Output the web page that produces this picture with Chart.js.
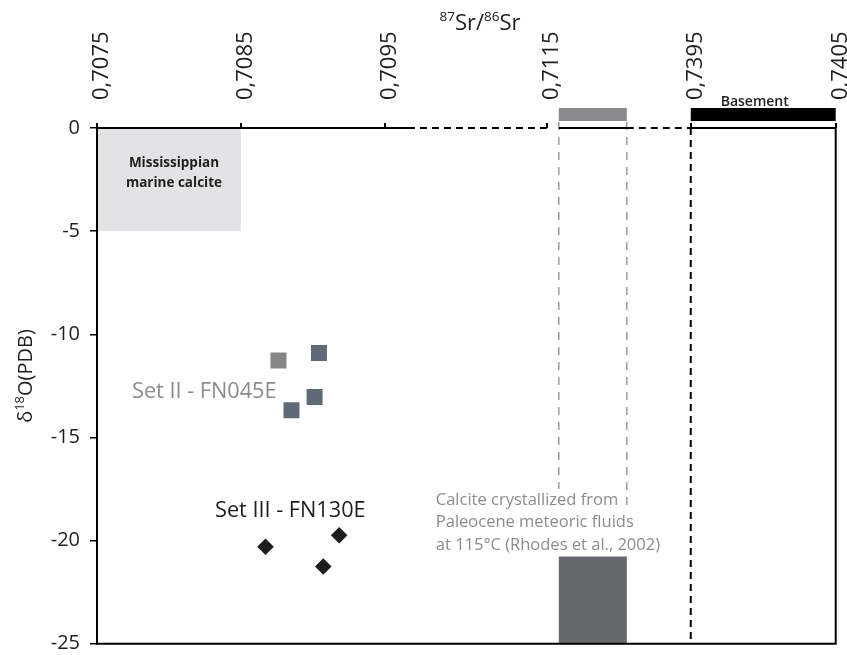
<!DOCTYPE html>
<html>
<head>
<meta charset="utf-8">
<script src="https://cdn.jsdelivr.net/npm/chart.js@4.4.1/dist/chart.umd.min.js"></script>
<style>
  html, body { margin: 0; padding: 0; background: #fff; }
  #c { display: block; }
</style>
</head>
<body>
<canvas id="c" width="847" height="655"></canvas>
<script>
// ---- data ----
// 87Sr/86Sr tick values (the axis is broken between them)
const srTicks = [0.7075, 0.7085, 0.7095, 0.7115, 0.7395, 0.7405];
const d18OTicks = [0, -5, -10, -15, -20, -25];

// Set II - FN045E
const setIISr   = [0.70876, 0.70904, 0.70901, 0.70885];
const setIID18O = [-11.27, -10.91, -13.04, -13.68];

// Set III - FN130E
const setIIISr   = [0.70867, 0.70918, 0.70907];
const setIIID18O = [-20.30, -19.74, -21.26];

// reference fields
const mississippianSr   = [0.7075, 0.7085];
const mississippianD18O = [-5, 0];
const paleoceneSr   = [0.71383, 0.72706];
const paleoceneD18O = [-25, -20.7];
const basementSr    = [0.7395, 0.7405];

// end of the continuous part of the top axis line
const srSolidEnd = 0.70978;

// ---- layout of the broken Sr axis: fraction of the axis length at each tick ----
const srStops = [0, 0.19486, 0.39039, 0.60893, 0.80379, 1];

const FONT = '"Open Sans", "Noto Sans", sans-serif';
const INK = '#1e1e1e';

// Piecewise-linear scale: each interval between ticks gets its own share of the axis
class BrokenLinearScale extends Chart.LinearScale {
  getPixelForValue(value) {
    const k = srTicks, s = srStops;
    let i = 0;
    while (i < k.length - 2 && value > k[i + 1]) i++;
    const t = (value - k[i]) / (k[i + 1] - k[i]);
    return this.getPixelForDecimal(s[i] + t * (s[i + 1] - s[i]));
  }
  getValueForPixel(pixel) {
    const d = this.getDecimalForPixel(pixel);
    const k = srTicks, s = srStops;
    let i = 0;
    while (i < s.length - 2 && d > s[i + 1]) i++;
    const t = (d - s[i]) / (s[i + 1] - s[i]);
    return k[i] + t * (k[i + 1] - k[i]);
  }
  buildTicks() {
    return srTicks.map(v => ({ value: v }));
  }
}
BrokenLinearScale.id = 'brokenLinear';
BrokenLinearScale.defaults = Chart.LinearScale.defaults;
Chart.register(BrokenLinearScale);

function drawRich(ctx, parts, x, y, align) {
  // parts: [text, font, dy]
  let total = 0;
  parts.forEach(p => { ctx.font = p[1]; total += ctx.measureText(p[0]).width; });
  let cx = align === 'center' ? x - total / 2 : x;
  ctx.textAlign = 'left';
  parts.forEach(p => {
    ctx.font = p[1];
    ctx.fillText(p[0], cx, y + p[2]);
    cx += ctx.measureText(p[0]).width;
  });
}

const decor = {
  id: 'decor',
  beforeDraw(chart) {
    const { ctx, chartArea: a, scales: { x, y } } = chart;
    ctx.save();
    ctx.fillStyle = '#fff';
    ctx.fillRect(0, 0, chart.width, chart.height);

    // Mississippian marine calcite field
    const mx0 = x.getPixelForValue(mississippianSr[0]);
    const mx1 = x.getPixelForValue(mississippianSr[1]);
    const my0 = y.getPixelForValue(mississippianD18O[1]);
    const my1 = y.getPixelForValue(mississippianD18O[0]);
    ctx.fillStyle = '#e3e3e5';
    ctx.fillRect(mx0, my0, mx1 - mx0, my1 - my0);
    ctx.fillStyle = INK;
    ctx.font = '700 13.5px ' + FONT;
    ctx.textAlign = 'center';
    ctx.textBaseline = 'alphabetic';
    const mc = (mx0 + mx1) / 2 + 5;
    ctx.fillText('Mississippian', mc, my0 + 39);
    ctx.fillText('marine calcite', mc, my0 + 59);

    // Paleocene meteoric fluid range: guides and field
    const px0 = x.getPixelForValue(paleoceneSr[0]);
    const px1 = x.getPixelForValue(paleoceneSr[1]);
    const pyTop = y.getPixelForValue(paleoceneD18O[1]);
    const pyBot = y.getPixelForValue(paleoceneD18O[0]);
    ctx.strokeStyle = '#9c9c9c';
    ctx.lineWidth = 1.5;
    ctx.setLineDash([8, 7]);
    ctx.beginPath();
    ctx.moveTo(px0, a.top - 6); ctx.lineTo(px0, pyTop);
    ctx.moveTo(px1, a.top - 6); ctx.lineTo(px1, pyTop);
    ctx.stroke();
    ctx.setLineDash([]);
    ctx.fillStyle = '#67686b';
    ctx.fillRect(px0, pyTop, px1 - px0, pyBot - pyTop);

    // caption with white backing behind each line
    const lines = ['Calcite crystallized from', 'Paleocene meteoric fluids', 'at 115°C (Rhodes et al., 2002)'];
    ctx.font = '16.5px ' + FONT;
    ctx.textAlign = 'left';
    const tx = px0 - 123;
    lines.forEach((t, i) => {
      const by = pyTop - 50 + i * 22.5;
      const w = ctx.measureText(t).width;
      ctx.fillStyle = '#fff';
      ctx.fillRect(tx - 2, by - 16, w + 4, 22.5);
    });
    ctx.fillStyle = '#8c8c8c';
    lines.forEach((t, i) => ctx.fillText(t, tx, pyTop - 50 + i * 22.5));
    ctx.restore();
  },
  afterDraw(chart) {
    const { ctx, chartArea: a, scales: { x, y } } = chart;
    ctx.save();
    ctx.strokeStyle = '#000';
    ctx.lineWidth = 2;

    const seg = (v0, v1, dash) => {
      ctx.setLineDash(dash);
      ctx.beginPath();
      ctx.moveTo(x.getPixelForValue(v0), a.top);
      ctx.lineTo(x.getPixelForValue(v1), a.top);
      ctx.stroke();
    };
    // top Sr axis line with its broken (dashed) stretches
    seg(srTicks[0], srSolidEnd, []);
    seg(srSolidEnd, srTicks[3], [7, 5]);
    seg(paleoceneSr[0], paleoceneSr[1], []);
    seg(paleoceneSr[1], srTicks[4], [7, 5]);
    seg(srTicks[4], srTicks[5], []);

    // right and bottom frame
    ctx.setLineDash([]);
    ctx.beginPath();
    ctx.moveTo(a.right, a.top); ctx.lineTo(a.right, a.bottom);
    ctx.moveTo(a.left - 1, a.bottom); ctx.lineTo(a.right + 1, a.bottom);
    ctx.stroke();

    // dashed break line at the basement side
    const bx = x.getPixelForValue(srTicks[4]);
    ctx.setLineDash([7, 5]);
    ctx.beginPath();
    ctx.moveTo(bx, a.top); ctx.lineTo(bx, a.bottom);
    ctx.stroke();
    ctx.setLineDash([]);

    // range bars above the axis
    const px0 = x.getPixelForValue(paleoceneSr[0]);
    const px1 = x.getPixelForValue(paleoceneSr[1]);
    ctx.fillStyle = '#8a8a8c';
    ctx.fillRect(px0, a.top - 20, px1 - px0, 13);
    const bx0 = x.getPixelForValue(basementSr[0]);
    const bx1 = x.getPixelForValue(basementSr[1]);
    ctx.fillStyle = '#000';
    ctx.fillRect(bx0, a.top - 20, bx1 - bx0, 13);
    ctx.fillStyle = INK;
    ctx.font = '600 14px ' + FONT;
    ctx.textAlign = 'center';
    ctx.fillText('Basement', (bx0 + bx1) / 2 - 8.5, a.top - 22);

    // set labels
    ctx.textAlign = 'left';
    ctx.font = '21.7px ' + FONT;
    ctx.fillStyle = '#8c8c8c';
    ctx.fillText('Set II - FN045E', 132, 398);
    ctx.fillStyle = INK;
    ctx.fillText('Set III - FN130E', 215, 517);

    // axis titles
    ctx.fillStyle = INK;
    drawRich(ctx, [
      ['87', '13.5px ' + FONT, -9],
      ['Sr/', '22px ' + FONT, 0],
      ['86', '13.5px ' + FONT, -9],
      ['Sr', '22px ' + FONT, 0]
    ], 480, 30, 'center');

    ctx.translate(32, 376);
    ctx.rotate(-Math.PI / 2);
    drawRich(ctx, [
      ['δ', '20px ' + FONT, 0],
      ['18', '13px ' + FONT, -8],
      ['O(PDB)', '20px ' + FONT, 0]
    ], 0, 0, 'center');
    ctx.restore();
  }
};

new Chart(document.getElementById('c'), {
  type: 'scatter',
  data: {
    datasets: [
      {
        label: 'Set II - FN045E',
        data: setIISr.map((v, i) => ({ x: v, y: setIID18O[i] })),
        pointStyle: 'rect',
        pointRadius: 11.3,
        pointBackgroundColor: ['#868686', '#5f6a78', '#5f6a78', '#5f6a78'],
        pointBorderWidth: 0
      },
      {
        label: 'Set III - FN130E',
        data: setIIISr.map((v, i) => ({ x: v, y: setIIID18O[i] })),
        pointStyle: 'rectRot',
        pointRadius: 8.3,
        pointBackgroundColor: '#1e1e1e',
        pointBorderWidth: 0
      }
    ]
  },
  options: {
    responsive: false,
    animation: false,
    devicePixelRatio: 1,
    events: [],
    layout: { padding: { left: 0, right: 11, top: 0, bottom: 6 } },
    plugins: { legend: { display: false }, tooltip: { enabled: false } },
    scales: {
      x: {
        type: 'brokenLinear',
        position: 'top',
        min: srTicks[0],
        max: srTicks[srTicks.length - 1],
        border: { display: false },
        grid: { drawOnChartArea: false, drawTicks: true, tickLength: 5, color: '#000', lineWidth: 2 },
        ticks: {
          autoSkip: false,
          minRotation: 90,
          maxRotation: 90,
          padding: 23,
          labelOffset: 31,
          color: INK,
          font: { family: FONT, size: 22 },
          callback: v => v.toFixed(4).replace('.', ',')
        },
        afterFit: s => { s.height = 128; s.paddingLeft = 0; s.paddingRight = 0; }
      },
      y: {
        type: 'linear',
        min: -25,
        max: 0,
        border: { display: true, color: '#000', width: 2 },
        grid: { drawOnChartArea: false, drawTicks: true, tickLength: 7, color: '#000', lineWidth: 1.5 },
        afterBuildTicks: s => { s.ticks = d18OTicks.map(v => ({ value: v })); },
        ticks: {
          padding: 10,
          color: INK,
          font: { family: FONT, size: 20 },
          callback: v => String(v)
        },
        afterFit: s => { s.width = 97; s.paddingTop = 0; s.paddingBottom = 0; }
      }
    }
  },
  plugins: [decor]
});
</script>
</body>
</html>
